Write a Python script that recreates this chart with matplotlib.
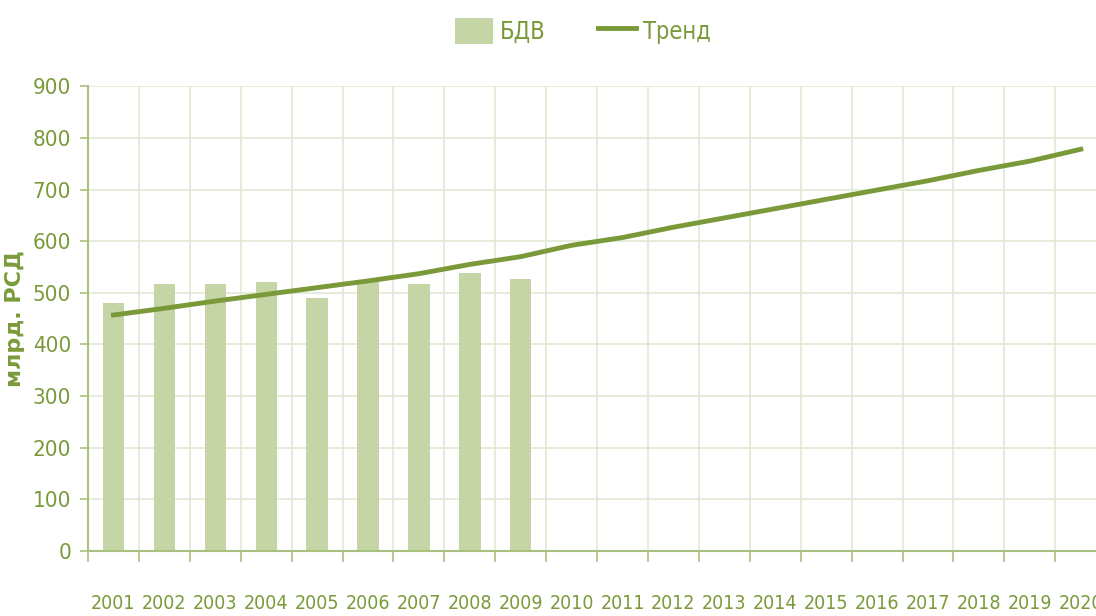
import numpy as np
import matplotlib.pyplot as plt
from matplotlib.ticker import FixedLocator

years = [str(y) for y in range(2001, 2021)]
bdv = [480, 517, 517, 521, 489, 523, 517, 539, 526]
trend = [457, 470, 484, 497, 510, 523, 537, 555, 570, 592, 607, 627, 645, 663,
         681, 699, 717, 737, 755, 778]

green = '#7a9a3a'
bar_col = '#c5d5a5'
grid_col = '#e3e9d3'
axis_col = '#a9c07f'

plt.rcParams['font.family'] = ['DejaVu Sans']
plt.rcParams['font.stretch'] = 'condensed'

fig = plt.figure(figsize=(10.96, 6.16), dpi=100)
ax = fig.add_axes([0.0803, 0.1055, 0.929, 0.7545])

x = np.arange(len(years))
ax.bar(x[:len(bdv)], bdv, width=0.42, color=bar_col, label='БДВ', zorder=2)
ax.plot(x, trend, color=green, linewidth=3.5, label='Тренд', zorder=3)

ax.set_xlim(-0.5, len(years) - 0.5)
ax.set_ylim(0, 900)
ax.set_yticks(range(0, 901, 100))
ax.set_xticks(x)
ax.set_xticklabels(years)
ax.xaxis.set_minor_locator(FixedLocator(np.arange(-0.5, len(years), 1)))

ax.grid(axis='y', color=grid_col, linewidth=1.2, zorder=0)
ax.grid(axis='x', which='minor', color=grid_col, linewidth=1.2, zorder=0)
ax.tick_params(axis='x', which='major', length=0, pad=31, labelsize=14, labelcolor=green)
ax.tick_params(axis='x', which='minor', length=8, color=axis_col, width=1.2)
ax.tick_params(axis='y', length=6, color=axis_col, width=1.2, labelsize=16,
               labelcolor=green, pad=6)

for s in ['top', 'right']:
    ax.spines[s].set_visible(False)
for s in ['left', 'bottom']:
    ax.spines[s].set_color(axis_col)
    ax.spines[s].set_linewidth(1.5)

ax.set_ylabel('млрд. РСД', color=green, fontsize=16, fontweight='bold',
              fontstretch='normal', labelpad=6)

h, l = ax.get_legend_handles_labels()
fig.legend(h[::-1], l[::-1], loc='center', bbox_to_anchor=(0.532, 0.95), ncol=2,
           frameon=False, fontsize=17, labelcolor=green, handlelength=1.6,
           handleheight=1.3, columnspacing=2.2, handletextpad=0.3)

fig.savefig('out.png', dpi=100)
